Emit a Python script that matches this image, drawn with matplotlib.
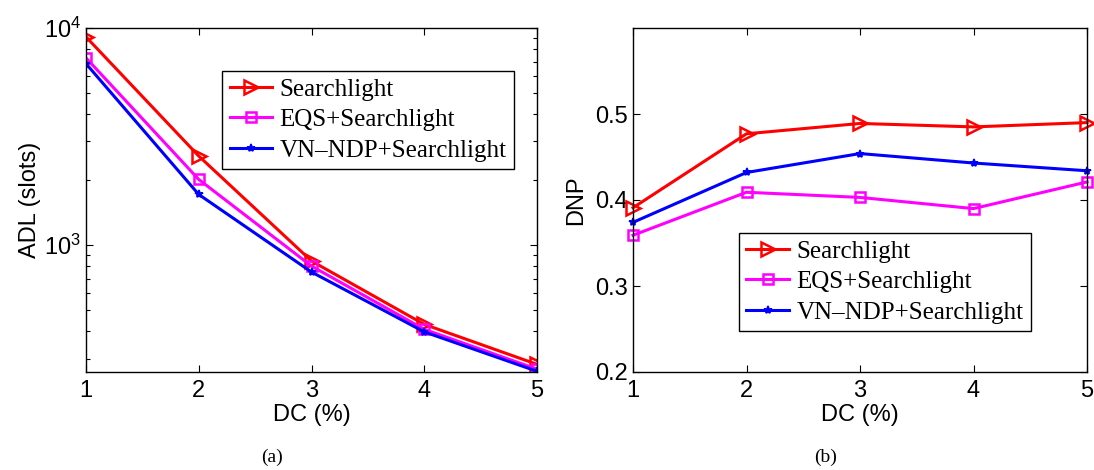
import matplotlib
matplotlib.use("Agg")
import matplotlib.pyplot as plt
from matplotlib.ticker import LogLocator, NullFormatter, FixedLocator

plt.rcParams['font.family'] = ['Liberation Sans', 'DejaVu Sans']
plt.rcParams['mathtext.default'] = 'regular'

dc = [1, 2, 3, 4, 5]
series_names = ["Searchlight", "EQS+Searchlight", "VN\u2013NDP+Searchlight"]

adl_searchlight = [9100, 2570, 844, 431, 282]
adl_eqs = [7280, 2005, 800, 409, 268]
adl_vn = [6850, 1710, 751, 398, 262]

dnp_searchlight = [0.391, 0.477, 0.489, 0.485, 0.490]
dnp_eqs = [0.359, 0.409, 0.403, 0.390, 0.421]
dnp_vn = [0.374, 0.432, 0.454, 0.443, 0.434]

styles = [
    dict(color='#ff0000', marker='>', markersize=10, markerfacecolor='none', markeredgewidth=1.8),
    dict(color='#ff00ff', marker='s', markersize=7, markerfacecolor='none', markeredgewidth=1.8),
    dict(color='#0000ff', marker='*', markersize=6, markeredgewidth=1.2),
]

fig = plt.figure(figsize=(10.94, 4.70), dpi=100)
ax1 = fig.add_axes([86/1094, 1-372/470, 451/1094, 344/470])
ax2 = fig.add_axes([633/1094, 1-372/470, 454/1094, 344/470])

for ys, st, name in zip([adl_searchlight, adl_eqs, adl_vn], styles, series_names):
    ax1.plot(dc, ys, lw=2.2, label=name, **st)
ax1.set_yscale('log')
ax1.set_ylim(260, 10000)
ax1.set_xlim(1, 5)
ax1.yaxis.set_major_locator(LogLocator(base=10, numticks=10))
ax1.yaxis.set_minor_locator(LogLocator(base=10, subs=range(2, 10), numticks=20))
ax1.yaxis.set_minor_formatter(NullFormatter())
ax1.set_ylabel('ADL (slots)', fontsize=17, labelpad=2)

for ys, st, name in zip([dnp_searchlight, dnp_eqs, dnp_vn], styles, series_names):
    ax2.plot(dc, ys, lw=2.2, label=name, clip_on=False, **st)
ax2.set_ylim(0.2, 0.6)
ax2.set_xlim(1, 5)
ax2.yaxis.set_major_locator(FixedLocator([0.2, 0.3, 0.4, 0.5]))
ax2.set_yticklabels(['0.2', '0.3', '0.4', '0.5'])
ax2.set_ylabel('DNP', fontsize=17, labelpad=6)

for ax in (ax1, ax2):
    ax.set_xticks(dc)
    ax.set_xlabel('DC (%)', fontsize=17, labelpad=1)
    ax.tick_params(axis='both', which='both', direction='in', top=True, right=True, labelsize=17)
    ax.tick_params(which='major', length=5, width=0.8)
    ax.tick_params(which='minor', length=3, width=0.8)
    ax.tick_params(axis='x', pad=6)
    for sp in ax.spines.values():
        sp.set_linewidth(1.0)

leg_kw = dict(loc='upper left', frameon=True, fancybox=False, framealpha=1,
              edgecolor='black', handlelength=1.7, handletextpad=0.3,
              labelspacing=0.32, borderpad=0.3, borderaxespad=0,
              prop={'family': 'Liberation Serif', 'size': 18})
l1 = ax1.legend(bbox_to_anchor=(0.302, 0.876), **leg_kw)
l1.get_frame().set_linewidth(1.0)
l2 = ax2.legend(bbox_to_anchor=(0.233, 0.405), **leg_kw)
l2.get_frame().set_linewidth(1.0)

fig.text(272/1094, 1-457/470, '(a)', ha='center', va='center', fontsize=14, family='Liberation Serif')
fig.text(826/1094, 1-457/470, '(b)', ha='center', va='center', fontsize=14, family='Liberation Serif')

fig.savefig('out.png', dpi=100)
